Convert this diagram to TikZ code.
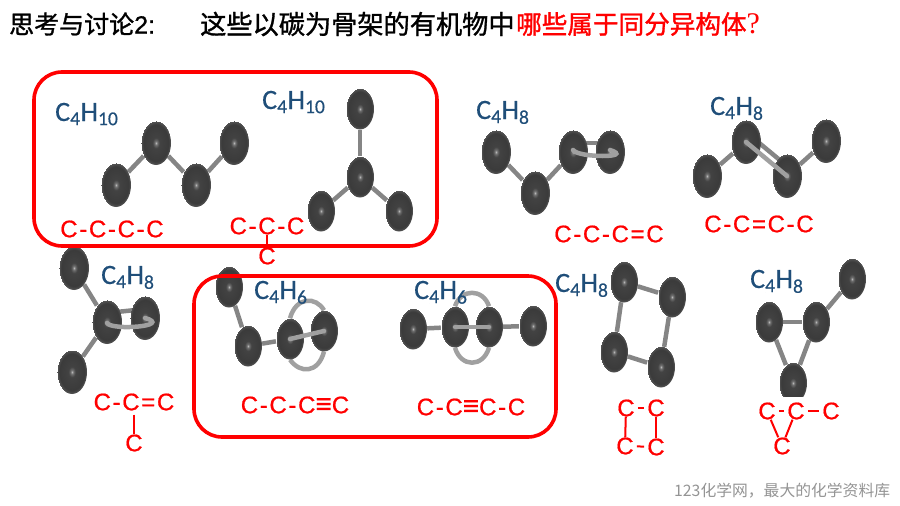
\documentclass[tikz,border=0pt]{standalone}
\usepackage{fontspec}
\setmainfont[FakeBold=0.4]{Carlito}
\newfontfamily\cjk[FakeBold=1.2]{Noto Sans CJK SC}
\newfontfamily\cjkplain{Noto Sans CJK SC}
\newfontfamily\latinsans[FakeBold=1]{Liberation Sans}
\newfontfamily\latinserif{Liberation Serif}
\newfontfamily\chainfont[LetterSpace=7,FakeBold=0.7]{Liberation Sans}
\usetikzlibrary{shapes.geometric,backgrounds}
\definecolor{formulablue}{HTML}{1F4E79}
\definecolor{bondgray}{HTML}{858585}
\definecolor{barlight}{HTML}{A0A0A0}
\pgfdeclareradialshading{atomball}{\pgfpoint{0bp}{0bp}}{
  color(0bp)=(black!28);
  color(2.5bp)=(black!58);
  color(6bp)=(black!74);
  color(21bp)=(black!77);
  color(25bp)=(black!66)}
\tikzset{
  atom/.style={ellipse,minimum width=30pt,minimum height=44pt,inner sep=0pt,shading=atomball},
  smallatom/.style={atom,minimum width=28pt,minimum height=41pt},
  bond/.style={bondgray,line width=4.5pt},
  bar/.style={barlight,line width=4.5pt,line cap=round},
  box/.style={red,line width=3.6pt,rounded corners=28pt},
  formula/.style={text=formulablue,font=\fontsize{28}{30}\selectfont,inner sep=0pt,anchor=base west},
  chain/.style={text=red,font=\chainfont\fontsize{24}{28}\selectfont,inner sep=0pt},
  link/.style={red,line width=2pt},
  titlepart/.style={anchor=west,inner sep=0pt}
}
\newcommand{\drawatoms}[2][atom]{
    \foreach \name/\x/\y in {#2} {
      \node[#1] (\name) at (\x,\y) {};
    }
}
\newcommand{\drawbonds}[1]{
\begin{pgfonlayer}{background}
    \foreach \r/\s in {#1} {
      \draw[bond] (\r) -- (\s);
    }
\end{pgfonlayer}
}
\newcommand{\fml}[2]{C\textsubscript{#1}H\textsubscript{#2}}
\newcommand{\triplebar}{{\fontsize{28}{28}\selectfont ≡}}
\begin{document}
\begin{tikzpicture}[x=1pt,y=-1pt]
\useasboundingbox (0,0) rectangle (900,506);
\node[titlepart,font=\cjk\fontsize{25}{30}\selectfont] (titlea) at (9,24) {思考与讨论\latinsans 2:};
\node[titlepart,font=\cjk\fontsize{26.2}{30}\selectfont] (titleb) at (200,24) {这些以碳为骨架的有机物中};
\node[titlepart,text=red,font=\cjk\fontsize{25.6}{30}\selectfont] (titlec) at (516,24) {哪些属于同分异构体\latinserif\fontsize{30}{30}\selectfont ?};
% chains and branches
\drawatoms{p1/116/185,p2/156/143,p3/196/185,p4/234/143}
\drawbonds{p1/p2,p2/p3,p3/p4}
\drawatoms[smallatom]{m1/360/109,m2/360/177,m3/321/211,m4/399/211}
\drawbonds{m1/m2,m2/m3,m2/m4}
% double bonds
\drawatoms{e1/496/152,e2/535/193,e3/573/152,e4/610/152}
\drawbonds{e1/e2,e2/e3}
\begin{pgfonlayer}{background}
\draw[bond] ([yshift=9pt]e3.center) -- ([yshift=9pt]e4.center);
\end{pgfonlayer}
\draw[bar] ([yshift=2pt]e3.center) .. controls +(5,8) and +(25,8) .. ([yshift=2pt]e4.center);
\drawatoms{b1/707/176,b2/746/142,b3/787/176,b4/826/141}
\drawbonds{b1/b2,b3/b4}
\begin{pgfonlayer}{background}
\draw[bond] ([shift={(6pt,5pt)}]b2.center) -- ([shift={(6pt,5pt)}]b3.center);
\end{pgfonlayer}
\draw[bar] (b2.center) -- (b3.center);
\drawatoms{n1/74/268,n2/107/322,n3/145/318,n4/72/372}
\drawbonds{n1/n2,n2/n4}
\begin{pgfonlayer}{background}
\draw[bond] ([yshift=9pt]n2.center) -- ([yshift=9pt]n3.center);
\end{pgfonlayer}
\draw[bar] ([yshift=-1pt]n2.center) .. controls +(5,8) and +(28,8) .. ([yshift=0pt]n3.center);
% triple bonds
\drawatoms[smallatom]{g1/229/287,g2/248/346,g3/290/339,g4/324/331}
\drawbonds{g1/g2,g2/g3}
\begin{pgfonlayer}{background}
\draw[bond,barlight] (g3.north) .. controls +(6,-22) and +(-8,-14) .. (g4.north);
\draw[bond,barlight] (g3.south) .. controls +(10,14) and +(-6,22) .. (g4.south);
\end{pgfonlayer}
\draw[bar] (g3.center) -- (g4.center);
\drawatoms[smallatom]{h1/413/329,h2/455/327,h3/489/327,h4/533/326}
\drawbonds{h1/h2,h3/h4}
\begin{pgfonlayer}{background}
\draw[bond,barlight] (h2.north) .. controls +(6,-18) and +(-6,-18) .. (h3.north);
\draw[bond,barlight] (h2.south) .. controls +(6,20) and +(-6,20) .. (h3.south);
\end{pgfonlayer}
\draw[bar] (h2.center) -- (h3.center);
% rings
\drawatoms[smallatom]{r1/624/282,r2/672/297,r3/661/367,r4/614/352}
\drawbonds{r1/r2,r2/r3,r3/r4,r4/r1}
\drawatoms[smallatom]{y1/769/322,y2/816/322,y3/852/279,y4/793/383}
\drawbonds{y1/y2,y2/y3,y1/y4,y2/y4}
\fill[white] (770,397) rectangle (820,425);
% boxes
\draw[box] (34,72) rectangle (437,246);
\draw[box] (194,276) rectangle (556,437);
% molecular formulas
\node[formula] (fa) at (55,121) {\fml{4}{10}};
\node[formula] (fb) at (262,109) {\fml{4}{10}};
\node[formula] (fc) at (476,119) {\fml{4}{8}};
\node[formula] (fd) at (710,115) {\fml{4}{8}};
\node[formula] (fe) at (101,284) {\fml{4}{8}};
\node[formula] (ff) at (254,299) {\fml{4}{6}};
\node[formula] (fg) at (414,299) {\fml{4}{6}};
\node[formula] (fh) at (555,292) {\fml{4}{8}};
\node[formula] (fi) at (750,288) {\fml{4}{8}};
% carbon skeletons
\node[chain] (ca) at (112,229) {C-C-C-C};
\node[chain] (cb) at (267,226) {C-C-C};
\node[chain] (cbb) at (267,256) {C};
\draw[link] (cb) -- (cbb);
\node[chain] (cc) at (609,234) {C-C-C=C};
\node[chain] (cd) at (759,224) {C-C=C-C};
\node[chain] (ce) at (134,402) {C-C=C};
\node[chain] (cee) at (134,443) {C};
\draw[link,shorten <=4pt] (ce) -- (cee);
\node[chain] (cf) at (295,405) {C-C-C\triplebar C};
\node[chain] (cg) at (471,407) {C-C\triplebar C-C};
\node[chain] (s1) at (626,408) {C};
\node[chain] (s2) at (656,408) {C};
\node[chain] (s3) at (656,447) {C};
\node[chain] (s4) at (625,446) {C};
\draw[link,shorten <=3pt,shorten >=3pt] (s1) -- (s2);
\draw[link,shorten <=3pt,shorten >=3pt] (s4) -- (s3);
\draw[link] (s1) -- (s4);
\draw[link] (s2) -- (s3);
\node[chain] (t1) at (767,411) {C};
\node[chain] (t2) at (796,411) {C};
\node[chain] (t3) at (831,411) {C};
\node[chain] (t4) at (782,446) {C};
\draw[link,shorten <=3pt,shorten >=3pt] (t1) -- (t2);
\draw[link,shorten <=3pt,shorten >=3pt] (t2) -- (t3);
\draw[link] (t1) -- (t4);
\draw[link] (t2) -- (t4);
\node[titlepart,text=black!42,font=\cjkplain\fontsize{15.8}{18}\selectfont] (mark) at (674,491) {123化学网，最大的化学资料库};
\end{tikzpicture}
\end{document}
